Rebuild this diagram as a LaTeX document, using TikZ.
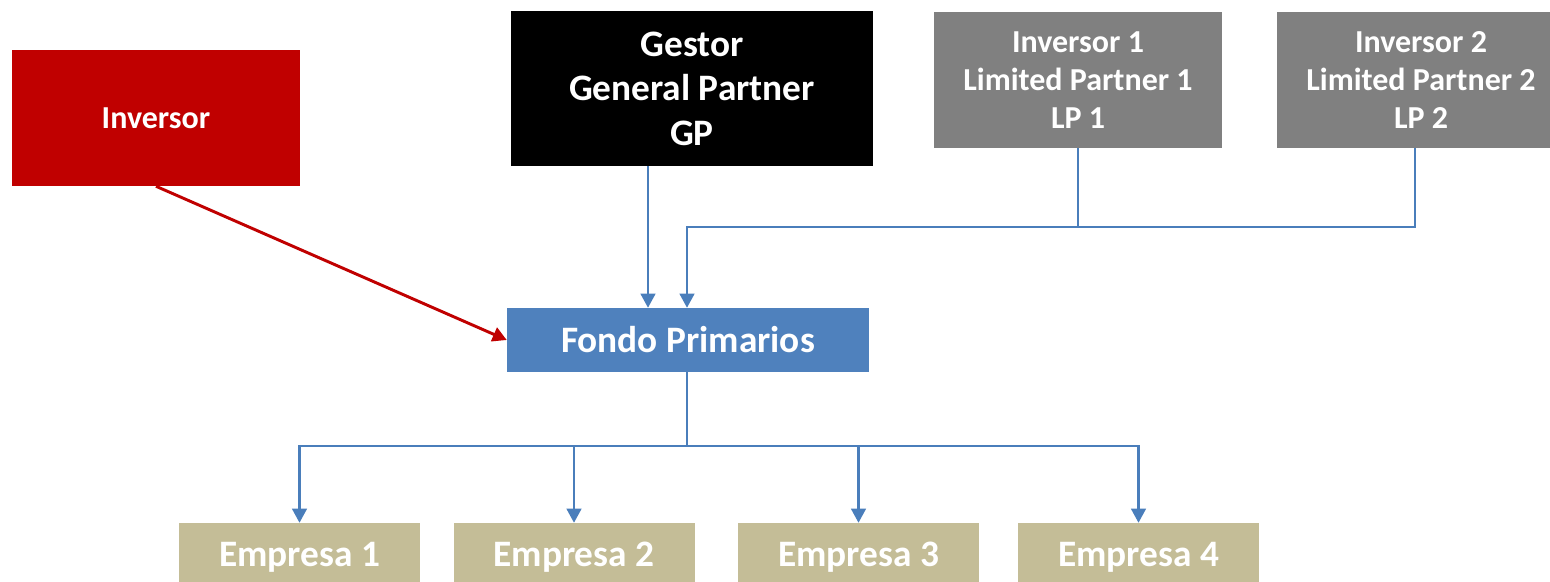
\documentclass[tikz,border=0pt]{standalone}
\usepackage{fontspec}
\setmainfont{Carlito}
\usetikzlibrary{arrows.meta}
\definecolor{redbox}{HTML}{C00000}
\definecolor{graybox}{HTML}{808080}
\definecolor{bluebox}{HTML}{4F81BD}
\definecolor{tanbox}{HTML}{C4BD97}
\definecolor{linkblue}{HTML}{4A7EBB}
\begin{document}
\begin{tikzpicture}[x=0.75pt,y=-0.75pt,
  box/.style={rectangle, inner sep=0pt, text=white, align=center, font=\bfseries},
  bigtext/.style={font=\fontsize{28}{33.4}\selectfont\bfseries},
  smalltext/.style={font=\fontsize{24}{28.5}\selectfont\bfseries},
  link/.style={draw=linkblue, line width=1.6pt},
  arrowlink/.style={link, -{Triangle[length=10.5pt,width=11pt]}},
  redlink/.style={draw=redbox, line width=2.2pt, -{Triangle[length=10.5pt,width=11pt]}}]
  \useasboundingbox (0,0) rectangle (1550,582);

  % top row
  \node[box, smalltext, fill=redbox, minimum width=216pt, minimum height=102pt] (inv) at (156,118) {Inversor};
  \node[box, bigtext, fill=black, minimum width=271.5pt, minimum height=116.25pt] (gp) at (692,88.5) {Gestor\\General Partner\\GP};
  \node[box, smalltext, fill=graybox, minimum width=216pt, minimum height=102pt] (lp1) at (1078,80) {Inversor 1\\Limited Partner 1\\LP 1};
  % this box runs past the right edge
  \node[box, smalltext, fill=graybox, minimum width=216pt, minimum height=102pt] (lp2) at (1421,80) {Inversor 2\\Limited Partner 2\\LP 2};

  % fund
  \node[box, bigtext, fill=bluebox, minimum width=271.5pt, minimum height=48pt] (fondo) at (688,340) {Fondo Primarios};

  % portfolio companies (boxes run past the lower edge)
  \node[box, bigtext, fill=tanbox, minimum width=180.75pt, minimum height=51pt] (e1) at (299.5,557) {Empresa 1};
  \node[box, bigtext, fill=tanbox, minimum width=180.75pt, minimum height=51pt] (e2) at (574,557) {Empresa 2};
  \node[box, bigtext, fill=tanbox, minimum width=180.75pt, minimum height=51pt] (e3) at (858.5,557) {Empresa 3};
  \node[box, bigtext, fill=tanbox, minimum width=180.75pt, minimum height=51pt] (e4) at (1138.5,557) {Empresa 4};

  % routing points
  \coordinate (gx) at (648,0);
  \coordinate (lp2x) at (1415,0);
  \coordinate (bus) at (687,227);
  \coordinate (split) at (687,446);

  % investor flows into the fund
  \draw[redlink] (inv.south) -- (fondo.west);
  \draw[arrowlink] (gp.south -| gx) -- (fondo.north -| gx);
  \draw[link] (lp1.south) -- (lp1.south |- bus);
  \draw[arrowlink] (lp2.south -| lp2x) |- (bus) -- (fondo.north -| bus);

  % fund invests in companies
  \draw[link] (fondo.south -| split) -- (split);
  \draw[arrowlink] (split) -| (e1.north);
  \draw[arrowlink] (split) -| (e2.north);
  \draw[arrowlink] (split) -| (e3.north);
  \draw[arrowlink] (split) -| (e4.north);
\end{tikzpicture}
\end{document}
